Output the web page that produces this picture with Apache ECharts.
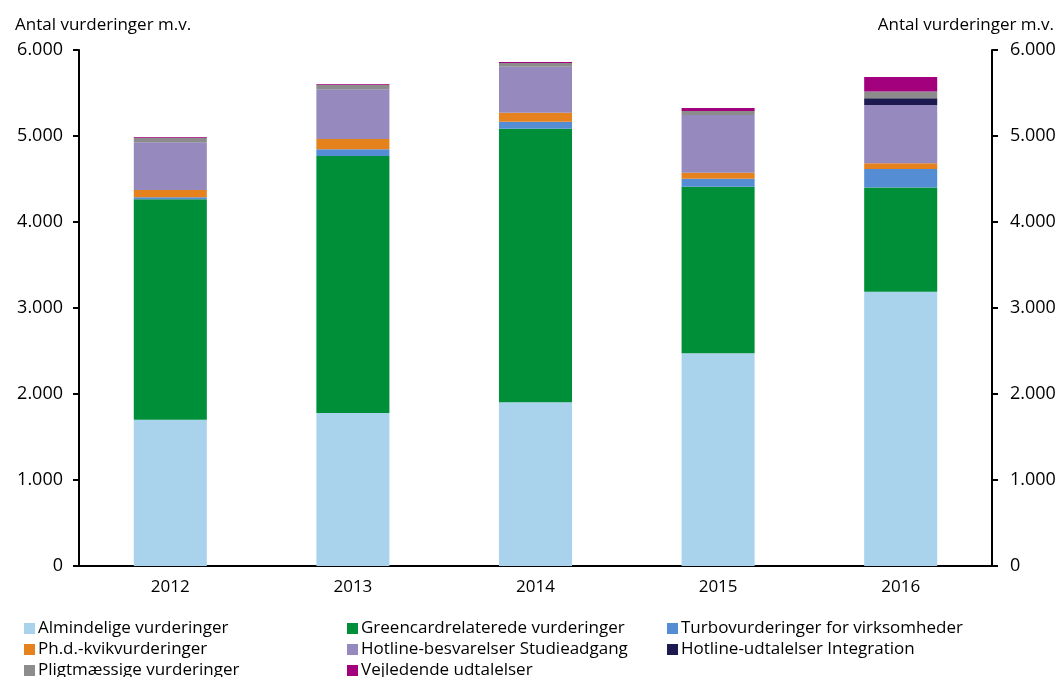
<!DOCTYPE html>
<html>
<head>
<meta charset="utf-8">
<script src="https://cdn.jsdelivr.net/npm/echarts@6/dist/echarts.min.js"></script>
<style>
  html, body { margin: 0; padding: 0; background: #fff; }
  #main { width: 1061px; height: 677px; }
</style>
</head>
<body>
<div id="main"></div>
<script>
// DATA
var years = ['2012', '2013', '2014', '2015', '2016'];
var almindelige  = [1700, 1780, 1905, 2475, 3190];
var greencard    = [2565, 2987, 3180, 1935, 1210];
var turbo        = [23, 78, 81, 93, 217];
var phd          = [85, 120, 105, 70, 66];
var hotlineStud  = [555, 578, 535, 670, 678];
var hotlineInteg = [0, 0, 0, 0, 78];
var pligt        = [53, 54, 43, 47, 77];
var vejledende   = [8, 8, 11, 35, 171];
var yTicks = [0, 1000, 2000, 3000, 4000, 5000, 6000];

var seriesDefs = [
    {name: 'Almindelige vurderinger', data: almindelige, color: '#a9d3ec'},
    {name: 'Greencardrelaterede vurderinger', data: greencard, color: '#008f39'},
    {name: 'Turbovurderinger for virksomheder', data: turbo, color: '#548dd4'},
    {name: 'Ph.d.-kvikvurderinger', data: phd, color: '#e6821e'},
    {name: 'Hotline-besvarelser Studieadgang', data: hotlineStud, color: '#9589bd'},
    {name: 'Hotline-udtalelser Integration', data: hotlineInteg, color: '#1c1a4f'},
    {name: 'Pligtmæssige vurderinger', data: pligt, color: '#8c8c8c'},
    {name: 'Vejledende udtalelser', data: vejledende, color: '#a3007d'}
];

var FONT = 'Open Sans';

function fmt(v) {
    return String(v).replace(/\B(?=(\d{3})+(?!\d))/g, '.');
}

var myChart = echarts.init(document.getElementById('main'), null, {renderer: 'canvas'});

// legend: 3 columns, 3 rows
var colX = [24, 347, 667];
var rowY = [620, 641, 662];
var legends = seriesDefs.map(function(s, i) {
    return {
        data: [s.name],
        left: colX[i % 3],
        top: rowY[Math.floor(i / 3)],
        itemWidth: 11,
        itemHeight: 11,
        padding: 0,
        icon: 'rect',
        selectedMode: false,
        textStyle: {fontFamily: FONT, fontSize: 17, color: '#000', padding: [0, 0, 0, -2]}
    };
});

var axisCommon = {
    type: 'value',
    min: 0,
    max: 6000,
    interval: 1000,
    splitLine: {show: false},
    axisLine: {show: true, lineStyle: {color: '#000', width: 2}},
    axisTick: {show: true, length: 6, lineStyle: {color: '#000', width: 2}},
    axisLabel: {
        fontFamily: FONT, fontSize: 18, color: '#000', margin: 16,
        formatter: function(v) { return fmt(v); }
    }
};

var option = {
    animation: false,
    title: [
        {text: 'Antal vurderinger m.v.', left: 10, top: 12,
         textStyle: {fontFamily: FONT, fontSize: 17, fontWeight: 'normal', color: '#000'}},
        {text: 'Antal vurderinger m.v.', right: 2, top: 12,
         textStyle: {fontFamily: FONT, fontSize: 17, fontWeight: 'normal', color: '#000'}}
    ],
    legend: legends,
    grid: {left: 79, right: 69, top: 50, bottom: 111},
    xAxis: {
        type: 'category',
        data: years,
        axisLine: {lineStyle: {color: '#000', width: 2}},
        axisTick: {show: false},
        axisLabel: {fontFamily: FONT, fontSize: 17, color: '#000', margin: 13}
    },
    yAxis: [
        Object.assign({}, axisCommon, {position: 'left'}),
        Object.assign({}, axisCommon, {position: 'right',
            axisLabel: Object.assign({}, axisCommon.axisLabel, {margin: 18})})
    ],
    series: seriesDefs.map(function(s) {
        return {
            name: s.name,
            type: 'bar',
            stack: 'total',
            barWidth: '40%',
            data: s.data,
            itemStyle: {color: s.color}
        };
    })
};
myChart.setOption(option);
</script>
</body>
</html>
